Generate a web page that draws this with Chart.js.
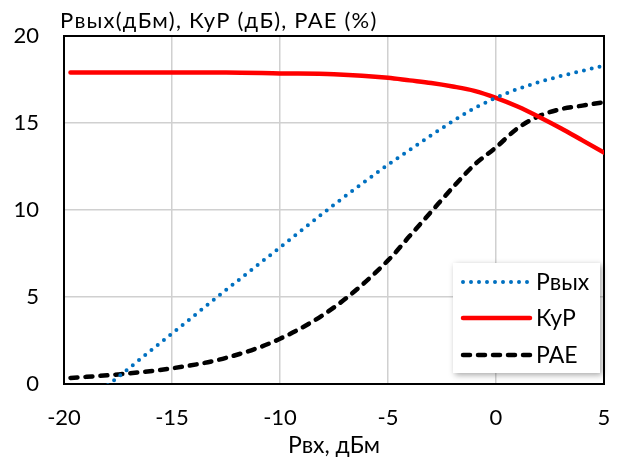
<!DOCTYPE html>
<html lang="ru">
<head>
    <meta charset="UTF-8">
    <title>Pвых, КуР, PAE</title>
    <script src="https://cdn.jsdelivr.net/npm/chart.js"></script>
    <style>
        html, body { margin: 0; padding: 0; background: #fff; }
        #wrap { width: 617px; height: 459px; }
    </style>
</head>
<body>
    <div id="wrap"><canvas id="chart"></canvas></div>

    <script>
        // input power, dBm
        const pin = [-19.7, -17.5, -15, -12.5, -10, -7.5, -5, -4, -3, -2, -1, 0, 1, 2, 3, 4, 5];
        // output power, dBm
        const pout = [-1.8, 0.4, 2.9, 5.4, 7.85, 10.3, 12.6, 13.45, 14.3, 15.1, 15.85, 16.45, 16.95, 17.35, 17.7, 18.0, 18.3];
        // power gain, dB
        const gain = [17.9, 17.9, 17.9, 17.9, 17.85, 17.8, 17.6, 17.45, 17.3, 17.1, 16.85, 16.45, 15.95, 15.35, 14.7, 14.0, 13.3];
        // power added efficiency, %
        const pae = [0.35, 0.55, 0.9, 1.5, 2.6, 4.4, 7.1, 8.5, 9.9, 11.3, 12.6, 13.6, 14.7, 15.4, 15.8, 16.0, 16.2];

        const xTicks = [-20, -15, -10, -5, 0, 5];
        const yTicks = [0, 5, 10, 15, 20];

        const FONT = 'Lato, "Open Sans", sans-serif';

        function pts(ys) {
            return pin.map((x, i) => ({ x: x, y: ys[i] }));
        }

        // black frame + title on top-left
        const framePlugin = {
            id: 'frame',
            beforeDatasetsDraw(chart) {
                const a = chart.chartArea, ctx = chart.ctx;
                ctx.save();
                ctx.strokeStyle = '#000';
                ctx.lineWidth = 2;
                ctx.strokeRect(a.left, a.top, a.right - a.left, a.bottom - a.top);
                ctx.restore();
            },
            afterDraw(chart) {
                const a = chart.chartArea, ctx = chart.ctx;
                ctx.save();
                ctx.fillStyle = '#000';
                ctx.font = '22px ' + FONT;
                ctx.letterSpacing = '1.2px';
                ctx.textAlign = 'left';
                ctx.textBaseline = 'middle';
                ctx.fillText('Pвых(дБм), КуР (дБ), PAE (%)', a.left - 4, 21);
                ctx.restore();
            }
        };

        // legend box inside the plot, lower right
        const legendPlugin = {
            id: 'boxLegend',
            afterDraw(chart) {
                const ctx = chart.ctx;
                const bx = 453, by = 263, bw = 147, bh = 110;
                ctx.save();
                ctx.shadowColor = 'rgba(0,0,0,0.35)';
                ctx.shadowBlur = 6;
                ctx.shadowOffsetX = 2;
                ctx.shadowOffsetY = 2;
                ctx.fillStyle = '#fff';
                ctx.fillRect(bx, by, bw, bh);
                ctx.restore();

                const rows = [282, 318, 355];
                chart.data.datasets.forEach((ds, i) => {
                    const y = rows[i];
                    ctx.save();
                    ctx.strokeStyle = ds.borderColor;
                    ctx.lineWidth = ds.borderWidth;
                    ctx.lineCap = ds.borderCapStyle || 'butt';
                    ctx.setLineDash(ds.borderDash || []);
                    ctx.beginPath();
                    ctx.moveTo(463, y);
                    ctx.lineTo(530, y);
                    ctx.stroke();
                    ctx.setLineDash([]);
                    ctx.fillStyle = '#000';
                    ctx.font = '23px ' + FONT;
                    ctx.textBaseline = 'middle';
                    ctx.fillText(ds.label, 536, y + 1);
                    ctx.restore();
                });
            }
        };

        const ctx = document.getElementById('chart').getContext('2d');
        new Chart(ctx, {
            type: 'line',
            data: {
                datasets: [
                    {
                        label: 'Pвых',
                        data: pts(pout),
                        borderColor: '#0070C0',
                        borderWidth: 4,
                        borderDash: [0, 8],
                        borderCapStyle: 'round',
                        pointRadius: 0,
                        cubicInterpolationMode: 'monotone'
                    },
                    {
                        label: 'КуР',
                        data: pts(gain),
                        borderColor: '#FF0000',
                        borderWidth: 4.5,
                        borderCapStyle: 'round',
                        pointRadius: 0,
                        cubicInterpolationMode: 'monotone'
                    },
                    {
                        label: 'PAE',
                        data: pts(pae),
                        borderColor: '#000000',
                        borderWidth: 4.5,
                        borderDash: [7, 8],
                        borderCapStyle: 'round',
                        pointRadius: 0,
                        cubicInterpolationMode: 'monotone'
                    }
                ]
            },
            options: {
                responsive: true,
                maintainAspectRatio: false,
                animation: false,
                layout: { padding: { top: 36, right: 13, left: 0, bottom: 0 } },
                plugins: {
                    legend: { display: false },
                    tooltip: { enabled: false }
                },
                scales: {
                    x: {
                        type: 'linear',
                        min: -20,
                        max: 5,
                        afterBuildTicks(scale) { scale.ticks = xTicks.map(v => ({ value: v })); },
                        afterFit(scale) {
                            scale.height = 75;
                            scale.paddingLeft = 0;
                            scale.paddingRight = 0;
                        },
                        grid: { color: '#d0d0d0', lineWidth: 1.5, drawTicks: false },
                        border: { display: false },
                        ticks: { color: '#000', font: { family: FONT, size: 22 }, padding: 21, maxRotation: 0 },
                        title: {
                            display: true,
                            text: 'Pвх, дБм',
                            color: '#000',
                            font: { family: FONT, size: 23 },
                            padding: { top: 0, bottom: 0 }
                        }
                    },
                    y: {
                        min: 0,
                        max: 20,
                        afterBuildTicks(scale) { scale.ticks = yTicks.map(v => ({ value: v })); },
                        afterFit(scale) {
                            scale.width = 64;
                            scale.paddingTop = 0;
                            scale.paddingBottom = 0;
                        },
                        grid: { color: '#d0d0d0', lineWidth: 1.5, drawTicks: false },
                        border: { display: false },
                        ticks: { color: '#000', font: { family: FONT, size: 22 }, padding: 25 }
                    }
                }
            },
            plugins: [framePlugin, legendPlugin]
        });
    </script>
</body>
</html>
